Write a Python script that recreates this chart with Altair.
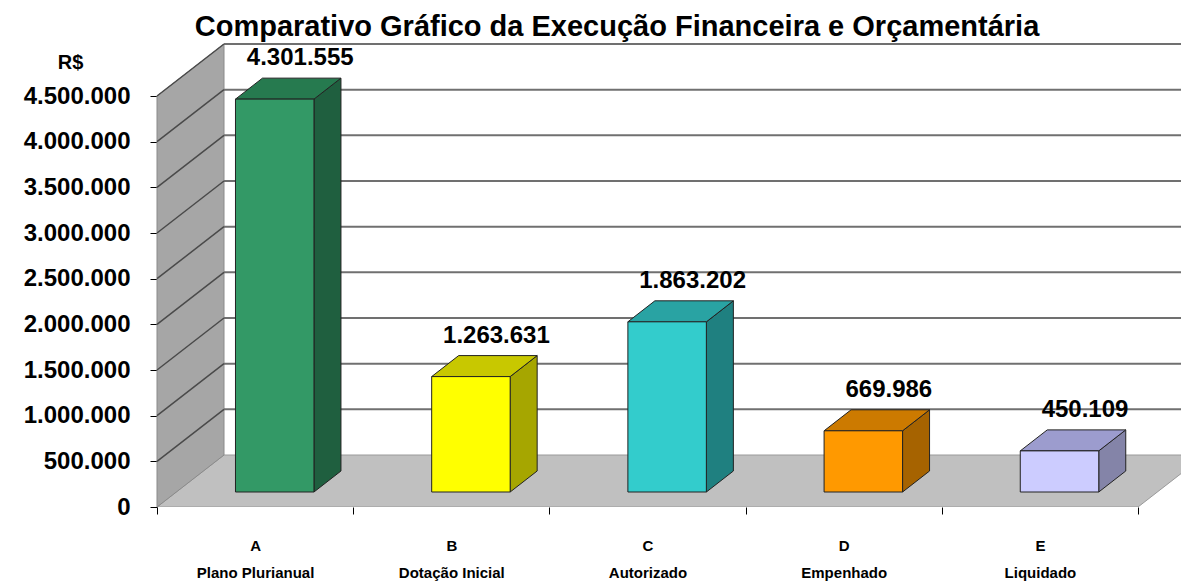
import json
import altair as alt
import pandas as pd

# ---------------- data ----------------
codes = ["A", "B", "C", "D", "E"]
names = ["Plano Plurianual", "Dotação Inicial", "Autorizado", "Empenhado", "Liquidado"]
values = [4301555, 1263631, 1863202, 669986, 450109]
y_ticks = [0, 500000, 1000000, 1500000, 2000000, 2500000, 3000000, 3500000, 4000000, 4500000]
title_text = "Comparativo Gráfico da Execução Financeira e Orçamentária"
y_title = "R$"

# ---------------- styles ----------------
front_colors = ["#339966", "#ffff00", "#33cccc", "#ff9900", "#ccccff"]
side_colors = ["#1f5f3f", "#a6a600", "#1f8080", "#a66300", "#8484a8"]
top_colors = ["#267a4f", "#c8c800", "#29a3a3", "#cc7a00", "#9c9cce"]
FONT = "Liberation Sans"

# ---------------- 3D projection geometry ----------------
PXX = 196.2                 # px per category band
PXV = 411 / 4500000         # px per R$
W, H = 1024, 477            # plot area
XMAX = W / PXX
YMAX = H / PXV
DX = 67 / PXX               # depth offset of the walls
DY = 52 / PXV
BAR_L, BAR_R = 0.40, 0.80   # bar front face inside its band
B0 = 15 / PXV               # bar front face sits a bit behind the front plane
BDX = 27 / PXX              # bar depth
BDY = 21 / PXV
N = len(codes)
YTOP = y_ticks[-1]

xs = alt.Scale(domain=[0, XMAX], nice=False, zero=False)
ys = alt.Scale(domain=[0, YMAX], nice=False, zero=False)

cat_labels = [[c, n] for c, n in zip(codes, names)]
x_axis = alt.Axis(
    values=[k / 2 for k in range(2 * N + 1)],
    domain=False, grid=False, tickSize=7, tickColor="#000", tickWidth=1,
    tickOpacity={"condition": {"test": "datum.value % 1 === 0", "value": 1}, "value": 0},
    labelExpr="datum.value % 1 === 0 ? '' : " + json.dumps(cat_labels, ensure_ascii=False) + "[floor(datum.value)]",
    labelFont=FONT, labelFontSize=15, labelFontWeight="bold", labelColor="#000",
    labelLineHeight=27, labelBaseline="top", labelPadding=24,
    labelOverlap=False, labelFlush=False, labelBound=False, title=None,
)
y_axis = alt.Axis(
    values=y_ticks, domain=False, grid=False, tickSize=7, tickColor="#000", tickWidth=1,
    labelExpr="replace(replace(format(datum.value, ','), ',', '.'), ',', '.')",
    labelFont=FONT, labelFontSize=24, labelFontWeight="bold", labelColor="#000",
    labelPadding=20, labelOverlap=False, labelFlush=False, labelBound=False,
    title=y_title, titleAngle=0, titleX=-87, titleY=32, titleAlign="center",
    titleBaseline="middle", titleFont=FONT, titleFontSize=20, titleFontWeight="bold",
    titleColor="#000",
)


def X(f):
    return alt.X(f"{f}:Q", scale=xs, axis=x_axis)


def Y(f):
    return alt.Y(f"{f}:Q", scale=ys, axis=y_axis)


# ---------------- walls / floor ----------------
floor_df = pd.DataFrame({"y": [0, DY], "xl": [0, DX], "xr": [N, N + DX]})
floor = alt.Chart(floor_df).mark_area(
    orient="horizontal", fill="#c0c0c0", stroke="#9a9a9a", strokeWidth=1, clip=True
).encode(y=Y("y"), x=X("xl"), x2="xr:Q")

wall_df = pd.DataFrame({"x": [0, DX], "lo": [0, DY], "hi": [YTOP, YTOP + DY]})
wall = alt.Chart(wall_df).mark_area(
    fill="#a6a6a6", stroke="#8a8a8a", strokeWidth=1
).encode(x=X("x"), y=Y("lo"), y2="hi:Q")

grid_df = pd.DataFrame({"y": [v + DY for v in y_ticks[1:]], "x": DX, "x2": N + DX})
grid = alt.Chart(grid_df).mark_rule(color="#707070", strokeWidth=2, clip=True).encode(
    x=X("x"), x2="x2:Q", y=Y("y")
)

diag_rows = []
for v in y_ticks[1:]:
    diag_rows.append({"v": v, "x": 0, "y": v})
    diag_rows.append({"v": v, "x": DX, "y": v + DY})
diag = alt.Chart(pd.DataFrame(diag_rows)).mark_line(color="#4a4a4a", strokeWidth=1.5).encode(
    x=X("x"), y=Y("y"), detail="v:N"
)

# ---------------- bars ----------------
front_df = pd.DataFrame({
    "code": codes,
    "x": [i + BAR_L for i in range(N)],
    "x2": [i + BAR_R for i in range(N)],
    "y": [B0] * N,
    "y2": [B0 + v for v in values],
})
side_rows, top_rows = [], []
for i, (c, v) in enumerate(zip(codes, values)):
    side_rows.append({"code": c, "x": i + BAR_R, "lo": B0, "hi": B0 + v})
    side_rows.append({"code": c, "x": i + BAR_R + BDX, "lo": B0 + BDY, "hi": B0 + v + BDY})
    top_rows.append({"code": c, "y": B0 + v, "xl": i + BAR_L, "xr": i + BAR_R})
    top_rows.append({"code": c, "y": B0 + v + BDY, "xl": i + BAR_L + BDX, "xr": i + BAR_R + BDX})

side = alt.Chart(pd.DataFrame(side_rows)).mark_area(stroke="#222", strokeWidth=1).encode(
    x=X("x"), y=Y("lo"), y2="hi:Q", detail="code:N",
    fill=alt.Fill("code:N", scale=alt.Scale(domain=codes, range=side_colors), legend=None),
)
top = alt.Chart(pd.DataFrame(top_rows)).mark_area(orient="horizontal", stroke="#222", strokeWidth=1).encode(
    y=Y("y"), x=X("xl"), x2="xr:Q", detail="code:N",
    fill=alt.Fill("code:N", scale=alt.Scale(domain=codes, range=top_colors), legend=None),
)
front = alt.Chart(front_df).mark_rect(stroke="#222", strokeWidth=1).encode(
    x=X("x"), x2="x2:Q", y=Y("y"), y2="y2:Q",
    fill=alt.Fill("code:N", scale=alt.Scale(domain=codes, range=front_colors), legend=None),
)

lab_df = pd.DataFrame({
    "x": [i + 0.73 for i in range(N)],
    "y": [B0 + v + BDY for v in values],
    "txt": [f"{v:,}".replace(",", ".") for v in values],
})
labels = alt.Chart(lab_df).mark_text(
    font=FONT, fontSize=24, fontWeight="bold", color="#000", dy=-20, baseline="middle", align="center"
).encode(x=X("x"), y=Y("y"), text="txt:N")

chart = alt.layer(floor, wall, grid, diag, side, top, front, labels).resolve_scale(
    fill="independent"
).properties(
    width=W, height=H,
    padding={"left": 149, "top": 22, "right": 0, "bottom": 75},
    autosize=alt.AutoSizeParams(type="none"),
    title=alt.TitleParams(
        text=title_text, font=FONT, fontSize=29, fontWeight="bold", color="#000",
        anchor="middle", frame="group", dx=-52, baseline="alphabetic", offset=-35,
    ),
    background="white",
).configure_view(stroke=None)

chart.save("out.html", embed_options={"renderer": "svg", "actions": False})
